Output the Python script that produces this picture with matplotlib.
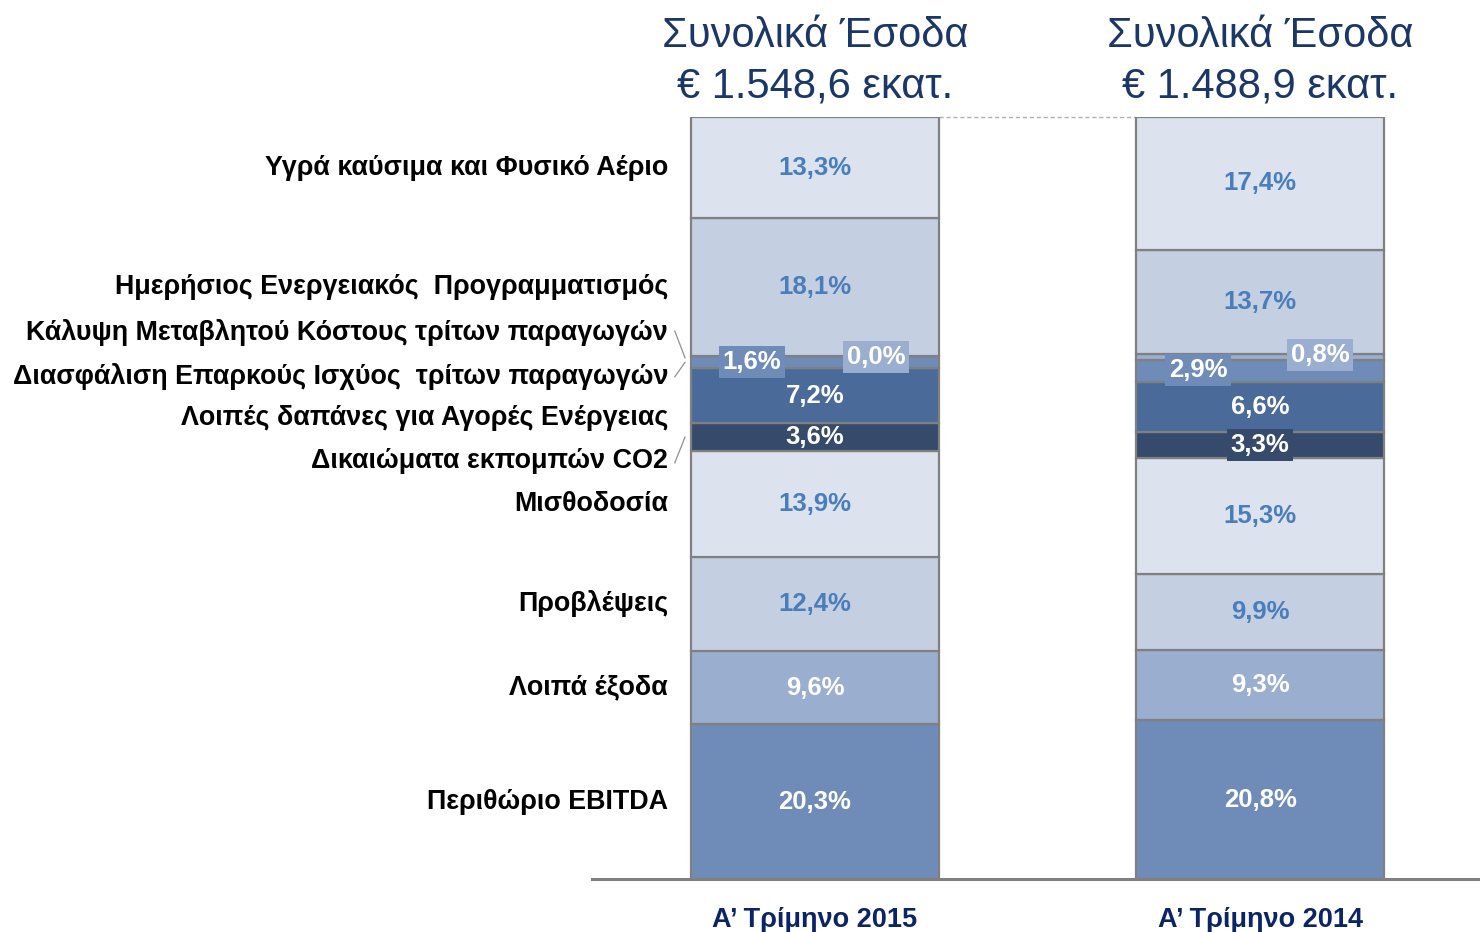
import matplotlib
matplotlib.use('Agg')
import numpy as np
import matplotlib.pyplot as plt

plt.rcParams['font.family'] = ['Liberation Sans', 'DejaVu Sans']

# δεδομένα (από κάτω προς τα πάνω)
categories = [
    'Περιθώριο EBITDA',
    'Λοιπά έξοδα',
    'Προβλέψεις',
    'Μισθοδοσία',
    'Δικαιώματα εκπομπών CO2',
    'Λοιπές δαπάνες για Αγορές Ενέργειας',
    'Διασφάλιση Επαρκούς Ισχύος  τρίτων παραγωγών',
    'Κάλυψη Μεταβλητού Κόστους τρίτων παραγωγών',
    'Ημερήσιος Ενεργειακός  Προγραμματισμός',
    'Υγρά καύσιμα και Φυσικό Αέριο',
]
q1_2015 = [20.3, 9.6, 12.4, 13.9, 3.6, 7.2, 1.6, 0.0, 18.1, 13.3]
q1_2014 = [20.8, 9.3, 9.9, 15.3, 3.3, 6.6, 2.9, 0.8, 13.7, 17.4]
periods = ['Α’ Τρίμηνο 2015', 'Α’ Τρίμηνο 2014']
totals = ['€ 1.548,6 εκατ.', '€ 1.488,9 εκατ.']

seg_colors = ['#6f8cb8', '#9aaed0', '#c5cfe2', '#dce3ef', '#364a6b',
              '#4a6a9a', '#6f8cb8', '#9aaed0', '#c5cfe2', '#dce3ef']
txt_colors = ['white', 'white', '#4a7ebb', '#4a7ebb', 'white',
              'white', 'white', 'white', '#4a7ebb', '#4a7ebb']
navy = '#1b3768'

fig = plt.figure(figsize=(14.8, 9.32), dpi=100)
ax = fig.add_axes([0.4, 0.0569, 0.6, 0.8176])
ax.set_xlim(-0.501, 1.494)
ax.set_ylim(0, 100)
ax.axis('off')

width = 0.557
xs = [0, 1]
series = [q1_2015, q1_2014]
# θέσεις ετικετών για τα δύο πολύ μικρά τμήματα (x μετατόπιση, y)
small_pos = {(0, 6): (-0.142, 67.8), (0, 7): (0.137, 68.5),
             (1, 6): (-0.139, 66.8), (1, 7): (0.135, 68.75)}

for x, vals in zip(xs, series):
    bottoms = np.concatenate([[0], np.cumsum(vals)[:-1]])
    ax.bar([x] * len(vals), vals, width=width, bottom=bottoms,
           color=seg_colors, edgecolor='#808080', linewidth=1.6, zorder=2)

    for i, (v, b) in enumerate(zip(vals, bottoms)):
        lab = f'{v:.1f}%'.replace('.', ',')
        tx, ty = x, b + v / 2
        box = None
        if (x, i) in small_pos:
            dx, ty = small_pos[(x, i)]
            tx = x + dx
            box = dict(boxstyle='square,pad=0.15', facecolor=seg_colors[i], edgecolor='none')
        elif i == 4 and x == 1:
            box = dict(boxstyle='square,pad=0.15', facecolor=seg_colors[4], edgecolor='none')
        ax.text(tx, ty, lab, ha='center', va='center', fontsize=18.5,
                fontweight='bold', color=txt_colors[i], bbox=box, zorder=4)

# γραμμή βάσης
ax.plot([-0.501, 1.494], [0, 0], color='#808080', lw=2.2, clip_on=False, zorder=3)
# διακεκομμένη γραμμή μεταξύ κορυφών
ax.plot([width / 2, 1 - width / 2], [100, 100], color='#b0b0b0', lw=1,
        ls=(0, (3, 2)), clip_on=False, zorder=1)

# τίτλοι πάνω από τις στήλες
for x, tot in zip(xs, totals):
    ax.text(x, 110.6, 'Συνολικά Έσοδα', ha='center', va='center', fontsize=30,
            color=navy)
    ax.text(x, 104.0, tot, ha='center', va='center', fontsize=30,
            color=navy)

# ετικέτες άξονα x
for x, p in zip(xs, periods):
    ax.text(x, -5.4, p, ha='center', va='center', fontsize=19.5, fontweight='bold',
            color='#0b2466')

# ετικέτες κατηγοριών αριστερά
cum = np.cumsum(q1_2015)
mids = list(cum - np.array(q1_2015) / 2)
label_y = mids[:4] + [54.86, 60.5, 66.0, 71.65] + mids[8:]
xl = -0.33
for cat, y in zip(categories, label_y):
    ax.text(xl, y, cat, ha='right', va='center', fontsize=19.4,
            fontweight='bold', color='black')

# οδηγοί για τις μικρές κατηγορίες
lead = dict(color='#909090', lw=0.9, clip_on=False)
ax.plot([-0.315, -0.292], [71.9, 68.4], **lead)
ax.plot([-0.315, -0.292], [65.9, 67.8], **lead)
ax.plot([-0.315, -0.292], [54.6, 58.0], **lead)

fig.savefig('out.png', dpi=100)
